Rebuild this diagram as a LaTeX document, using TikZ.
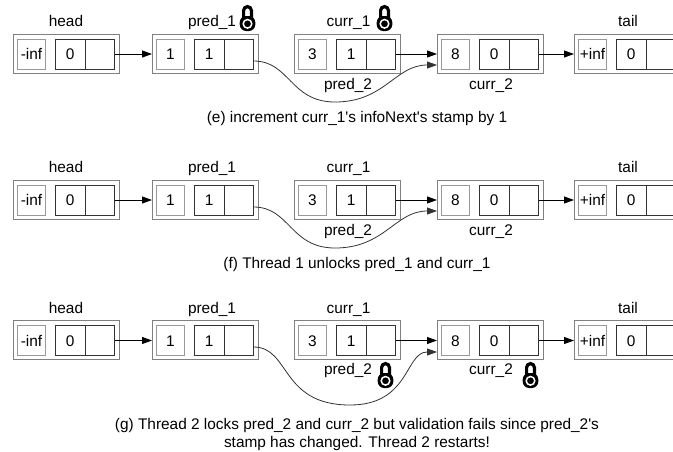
\documentclass[tikz,border=0pt]{standalone}
\usepackage{fontspec}
\setmainfont{Liberation Sans}
\usetikzlibrary{arrows.meta}

\tikzset{
 txt/.style={inner sep=0pt, outer sep=0pt, text height=11pt, text depth=0pt, font=\fontsize{15.4}{18}\selectfont},
 cellbase/.style={txt, draw, line width=1pt, minimum height=30pt},
 outerbox/.style={draw=black!50, line width=1pt, minimum width=106pt, minimum height=39pt, inner sep=0pt, outer sep=0pt},
 keycell/.style={cellbase, draw=black!40, minimum width=28pt},
 grpcell/.style={cellbase, draw=black!80, minimum width=29.5pt},
 lbl/.style={txt},
 ptrarrow/.style={draw=black, line width=0.9pt, -{Triangle[length=10pt,width=7pt]}},
 curvearrow/.style={draw=black!80, line width=0.8pt, -{Triangle[length=10pt,width=7pt]}},
 lockicon/.pic={
   \draw[line width=3.2pt, black] (-3.9,-5) -- (-3.9,-13) arc(180:360:3.9) -- (3.9,-5);
   \fill[black, rounded corners=6.5pt] (-7.8,-7.5) rectangle (7.8,7.5);
   \draw[white, line width=1.5pt] (0,0.3) circle (4.3);
   \fill[black] (0,0.3) circle (2.2);
 },
}

\newcommand\lnode[5]{%
 \node[outerbox] (#1) at ({#2+53},#3) {};
 \node[keycell] (#1k) at ({#2+18.5},{#3+0.5}) {#4};
 \node[grpcell] (#1s) at ({#2+57.25},{#3+0.5}) {#5};
 \node[grpcell] (#1p) at ({#2+86.75},{#3+0.5}) {};
}

\newcommand\lrow[2]{%
 \lnode{head#1}{13}{#2}{-inf}{0}
 \lnode{pa#1}{152}{#2}{1}{1}
 \lnode{ca#1}{294}{#2}{3}{1}
 \lnode{cb#1}{437}{#2}{8}{0}
 \lnode{tail#1}{574}{#2}{+inf}{0}
 \draw[ptrarrow] (head#1p.east) -- (head#1p.east -| pa#1.west);
 \draw[ptrarrow] (ca#1p.east) -- (ca#1p.east -| cb#1.west);
 \draw[ptrarrow] (cb#1p.east) -- (cb#1p.east -| tail#1.west);
 \node[lbl] (lh#1) at (66,{#2-32.5}) {head};
 \node[lbl] (lpa#1) at (212,{#2-32.5}) {pred\_1};
 \node[lbl] (lca#1) at (348.5,{#2-32.5}) {curr\_1};
 \node[lbl] (lt#1) at (628,{#2-32.5}) {tail};
}

\begin{document}
\begin{tikzpicture}[x=1pt,y=-1pt]
\useasboundingbox (0,0) rectangle (673,451);
\fill[white] (0,0) rectangle (673,451);
\clip (0,0) rectangle (673,451);

% row (e)
\lrow{E}{53.5}
\node[lbl] (lpbE) at (348,83.5) {pred\_2};
\node[lbl] (lcbE) at (491,83.5) {curr\_2};
\draw[curvearrow] ([yshift=-7pt]paEp.east) .. controls +(36.5,0) and +(-45,0) .. (335,102) .. controls +(50,0) and +(-42,0) .. ([yshift=-11.5pt]cbE.west);
\pic (lockA) at (247.5,23.5) {lockicon};
\pic (lockB) at (384.5,23.5) {lockicon};
\node[lbl] (capE) at (357,117) {(e) increment curr\_1\textquotesingle s infoNext\textquotesingle s stamp by 1};

% row (f)
\lrow{F}{199.5}
\node[lbl] (lpbF) at (348,229.5) {pred\_2};
\node[lbl] (lcbF) at (491,229.5) {curr\_2};
\draw[curvearrow] ([yshift=-7pt]paFp.east) .. controls +(36.5,0) and +(-45,0) .. (335,248) .. controls +(50,0) and +(-42,0) .. ([yshift=-11.5pt]cbF.west);
\node[lbl] (capF) at (357,263) {(f) Thread 1 unlocks pred\_1 and curr\_1};

% row (g)
\lrow{G}{340}
\node[lbl] (lpbG) at (348,368.5) {pred\_2};
\node[lbl] (lcbG) at (491,368.5) {curr\_2};
\draw[curvearrow] ([yshift=-6.5pt]paGp.east) .. controls +(37,0) and +(-70,0) .. (350,405) .. controls +(60,0) and +(-32,0) .. ([yshift=-12pt]cbG.west);
\pic (lockC) at (385.5,380.5) {lockicon};
\pic (lockD) at (530.5,380.5) {lockicon};
\node[lbl] (capG1) at (357,424) {(g) Thread 2 locks pred\_2 and curr\_2 but validation fails since pred\_2\textquotesingle s};
\node[lbl] (capG2) at (357,441.5) {stamp has changed. Thread 2 restarts!};
\end{tikzpicture}
\end{document}
